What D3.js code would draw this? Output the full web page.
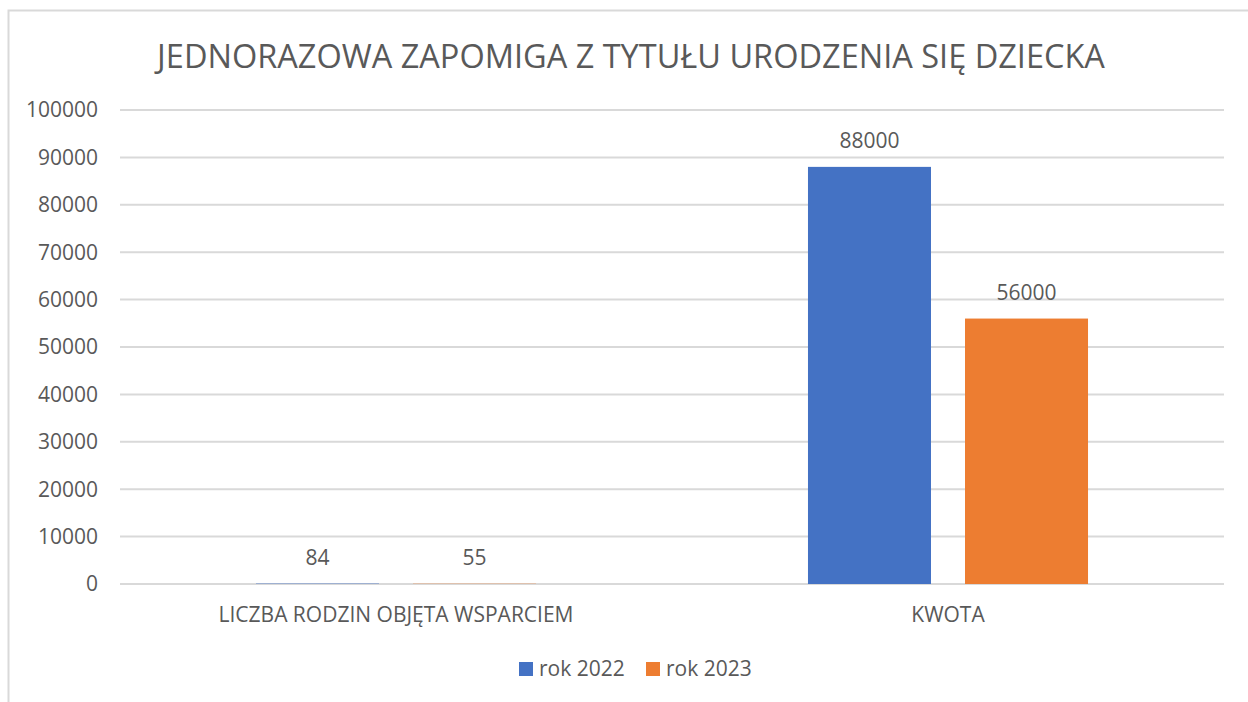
<!DOCTYPE html>
<html>
<head>
    <meta charset="utf-8">
    <title>Jednorazowa zapomoga</title>
    <style type="text/css">
        body {
            margin: 0;
            background-color: #fff;
        }

        text {
            font-family: "Open Sans", "Noto Sans", sans-serif;
            fill: #595959;
        }

        .grid line {
            stroke: #d9d9d9;
            stroke-width: 2;
        }
    </style>
</head>
<body>
<script src="https://cdn.jsdelivr.net/npm/d3@7"></script>
<script type="text/javascript">
    //数据
    var categories = ["LICZBA RODZIN OBJĘTA WSPARCIEM", "KWOTA"];
    var seriesNames = ["rok 2022", "rok 2023"];
    var values2022 = [84, 88000];
    var values2023 = [55, 56000];
    var yTicks = [0, 10000, 20000, 30000, 40000, 50000, 60000, 70000, 80000, 90000, 100000];
    var colors = ["#4472c4", "#ed7d31"];

    var width = 1248, height = 702;
    var plot = {left: 120, right: 1224, top: 110, bottom: 584};

    var svg = d3.select("body")
        .append("svg")
        .attr("width", width)
        .attr("height", height);

    //边框
    svg.append("rect")
        .attr("x", 8.5)
        .attr("y", 10.5)
        .attr("width", 1260)
        .attr("height", 720)
        .attr("fill", "none")
        .attr("stroke", "#d9d9d9")
        .attr("stroke-width", 2);

    //标题
    svg.append("text")
        .attr("x", 631)
        .attr("y", 68)
        .attr("text-anchor", "middle")
        .style("font-size", "32.5px")
        .text("JEDNORAZOWA ZAPOMIGA Z TYTUŁU URODZENIA SIĘ DZIECKA");

    var y = d3.scaleLinear()
        .domain([0, 100000])
        .range([plot.bottom, plot.top]);

    var x0 = d3.scaleBand()
        .domain(categories)
        .range([plot.left, plot.right])
        .padding(0);

    var x1 = d3.scaleBand()
        .domain(seriesNames)
        .range([0, x0.bandwidth()])
        .paddingInner(0.2166)
        .paddingOuter(0.866);

    //网格线
    svg.append("g")
        .attr("class", "grid")
        .selectAll("line")
        .data(yTicks)
        .enter()
        .append("line")
        .attr("x1", plot.left)
        .attr("x2", plot.right)
        .attr("y1", function (d) { return y(d); })
        .attr("y2", function (d) { return y(d); });

    //y轴标签
    svg.append("g")
        .selectAll("text")
        .data(yTicks)
        .enter()
        .append("text")
        .attr("x", 98)
        .attr("y", function (d) { return y(d); })
        .attr("dy", "0.35em")
        .attr("text-anchor", "end")
        .style("font-size", "21px")
        .text(function (d) { return d; });

    //x轴标签
    svg.append("g")
        .selectAll("text")
        .data(categories)
        .enter()
        .append("text")
        .attr("x", function (d) { return x0(d) + x0.bandwidth() / 2; })
        .attr("y", 622)
        .attr("text-anchor", "middle")
        .style("font-size", "21px")
        .text(function (d) { return d; });

    var rows = categories.map(function (c, i) {
        return {cat: c, vals: [values2022[i], values2023[i]]};
    });

    var groups = svg.selectAll(".group")
        .data(rows)
        .enter()
        .append("g")
        .attr("class", "group")
        .attr("transform", function (d) { return "translate(" + x0(d.cat) + ",0)"; });

    var cells = groups.selectAll("g")
        .data(function (d) {
            return d.vals.map(function (v, i) { return {name: seriesNames[i], value: v, i: i}; });
        })
        .enter()
        .append("g");

    //柱子
    cells.append("rect")
        .attr("x", function (d) { return x1(d.name); })
        .attr("y", function (d) { return y(d.value); })
        .attr("width", x1.bandwidth())
        .attr("height", function (d) { return y(0) - y(d.value); })
        .attr("fill", function (d) { return colors[d.i]; });

    //数据标签
    cells.append("text")
        .attr("x", function (d) { return x1(d.name) + x1.bandwidth() / 2; })
        .attr("y", function (d) { return y(d.value) - 19; })
        .attr("text-anchor", "middle")
        .style("font-size", "21px")
        .text(function (d) { return d.value; });

    //图例
    var legend = svg.append("g")
        .selectAll("g")
        .data(seriesNames)
        .enter()
        .append("g")
        .attr("transform", function (d, i) { return "translate(" + (519 + i * 127) + ",662)"; });

    legend.append("rect")
        .attr("width", 14)
        .attr("height", 14)
        .attr("fill", function (d, i) { return colors[i]; });

    legend.append("text")
        .attr("x", 20)
        .attr("y", 7)
        .attr("dy", "0.35em")
        .style("font-size", "21px")
        .text(function (d) { return d; });
</script>
</body>
</html>
